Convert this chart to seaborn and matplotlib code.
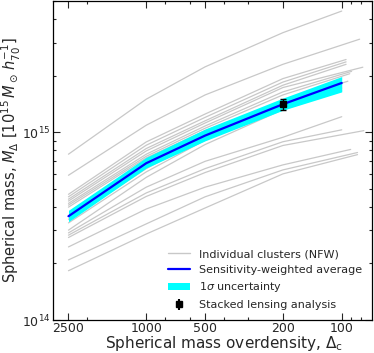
import matplotlib
matplotlib.use("Agg")
import matplotlib.pyplot as plt
import numpy as np
import pandas as pd
import seaborn as sns
from matplotlib.lines import Line2D
from matplotlib.patches import Patch
from matplotlib.ticker import FixedLocator, NullFormatter, FixedFormatter


# individual cluster NFW masses, units of 1e14 Msun/h70
deltas = [2500, 1000, 500, 200]
m2500 = [7.64, 5.90, 4.67, 4.53, 4.40, 4.30, 4.18, 4.09, 3.99, 3.44, 3.29, 3.01, 2.91, 2.83, 2.75, 2.45, 2.09, 1.83]
m1000 = [15.0, 10.9, 8.88, 8.53, 8.19, 7.95, 7.64, 7.45, 7.30, 6.40, 6.15, 5.75, 5.10, 4.75, 4.55, 3.90, 3.25, 2.87]
m500 = [22.3, 15.8, 12.5, 12.0, 11.5, 11.2, 10.8, 10.5, 10.2, 9.40, 9.07, 8.60, 7.00, 6.40, 6.10, 5.10, 4.53, 3.95]
m200 = [33.9, 23.0, 19.3, 18.5, 17.8, 17.3, 16.4, 15.8, 14.5, 14.0, 13.6, 13.2, 9.40, 8.90, 8.50, 6.70, 6.30, 6.00]
m_end = [44.2, 31.3, 24.4, 23.7, 23.0, 22.2, 21.1, 20.5, 18.7, 17.9, 17.2, 16.6, 12.1, 10.3, 10.2, 8.10, 7.80, 7.60]
delta_end = [100, 81, 95, 95, 95, 78, 89, 91, 93, 100, 100, 100, 100, 100, 77, 90, 83, 83]

# sensitivity-weighted average and 1 sigma band
avg_delta = [2500, 1000, 500, 200, 100]
avg_mass = [3.57, 6.84, 9.60, 14.1, 18.3]
band_low = [3.34, 6.45, 9.00, 13.1, 16.4]
band_high = [3.84, 7.35, 10.4, 15.2, 19.8]

# stacked lensing point
stack_delta = 200
stack_mass = 14.1
stack_err_low = 1.0
stack_err_high = 0.9

rows = []
for i in range(len(m2500)):
    ms = [m2500[i], m1000[i], m500[i], m200[i], m_end[i]]
    for d, m in zip(deltas + [delta_end[i]], ms):
        rows.append({"cluster": i, "delta": d, "mass": m * 1e14})
clusters = pd.DataFrame(rows)

sns.set_style("ticks")
plt.rcParams["font.family"] = ["DejaVu Sans"]
plt.rcParams["xtick.direction"] = "in"
plt.rcParams["ytick.direction"] = "in"

fig = plt.figure(figsize=(3.74, 3.53), dpi=100)
ax = fig.add_axes([53 / 374, 33 / 353, 319 / 374, 319 / 353])
ax.set_xscale("log")
ax.set_yscale("log")

grey = "#c8c8c8"
sns.lineplot(data=clusters, x="delta", y="mass", units="cluster", estimator=None,
             color=grey, lw=0.9, ax=ax, zorder=1, legend=False)
ax.fill_between(avg_delta, np.array(band_low) * 1e14, np.array(band_high) * 1e14,
                color="cyan", lw=0, zorder=2)
sns.lineplot(x=avg_delta, y=np.array(avg_mass) * 1e14, color="blue", lw=1.6,
             ax=ax, zorder=3, estimator=None)
ax.errorbar(stack_delta, stack_mass * 1e14,
            yerr=[[stack_err_low * 1e14], [stack_err_high * 1e14]],
            fmt="s", color="black", ms=4, capsize=2.5, elinewidth=1, zorder=4)

ax.set_xlim(3000, 70)
ax.set_ylim(1e14, 5e15)

ax.xaxis.set_major_locator(FixedLocator([2500, 1000, 500, 200, 100]))
ax.xaxis.set_major_formatter(FixedFormatter(["2500", "1000", "500", "200", "100"]))
ax.xaxis.set_minor_locator(FixedLocator([2000, 800, 600, 400, 300, 90, 80]))
ax.xaxis.set_minor_formatter(NullFormatter())

ax.tick_params(which="both", direction="in", top=True, right=True, labelsize=9, pad=2)
ax.tick_params(axis="x", which="both", pad=1.5)
ax.tick_params(which="major", length=5, width=0.8)
ax.tick_params(which="minor", length=2.5, width=0.8)
for s in ax.spines.values():
    s.set_linewidth(0.9)
    s.set_color("black")

ax.set_xlabel(r"Spherical mass overdensity, $\Delta_\mathrm{c}$", fontsize=11)
ax.xaxis.set_label_coords(0.535, -0.0885, transform=ax.transAxes)
ax.xaxis.label.set_va("baseline")
ax.set_ylabel(r"Spherical mass, $M_\Delta$ [$10^{15}\,M_\odot\,h_{70}^{-1}$]", fontsize=10.5, labelpad=-1)

handles = [
    Line2D([], [], color=grey, lw=1.0),
    Line2D([], [], color="blue", lw=1.6),
    Patch(color="cyan", lw=0),
    ax.errorbar([], [], yerr=[], fmt="s", color="black", ms=4, capsize=2.5),
]
labels = ["Individual clusters (NFW)", "Sensitivity-weighted average",
          r"1$\sigma$ uncertainty", "Stacked lensing analysis"]
ax.legend(handles, labels, loc="lower right", frameon=False, fontsize=8)

fig.savefig("out.png", dpi=100)
plt.close()
